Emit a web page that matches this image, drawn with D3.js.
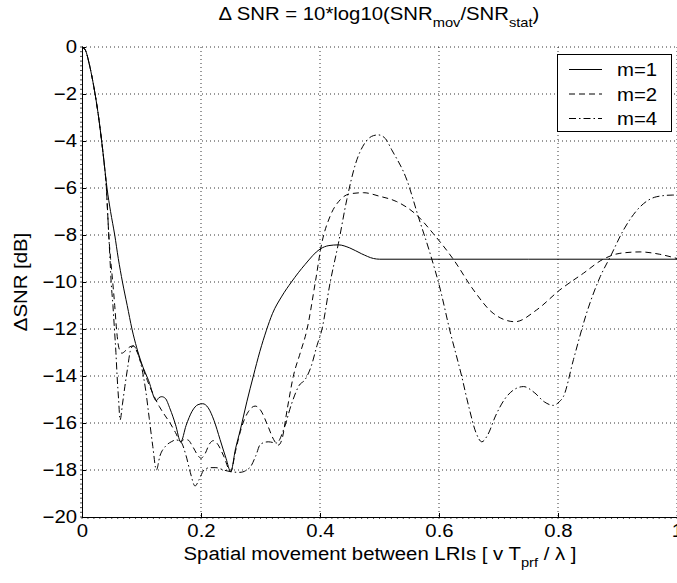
<!DOCTYPE html>
<html>
<head>
<meta charset="utf-8">
<script src="https://cdn.jsdelivr.net/npm/d3@7"></script>
<style>
  body { margin: 0; background: #fff; }
  svg { display: block; font-family: "Liberation Sans", Arial, sans-serif; }
</style>
</head>
<body>
<svg id="chart" width="677" height="583"></svg>
<script>
// axis ticks
var xTicks = [0, 0.2, 0.4, 0.6, 0.8, 1];
var yTicks = [-20, -18, -16, -14, -12, -10, -8, -6, -4, -2, 0];
var seriesNames = ["m=1", "m=2", "m=4"];

// m=1 (solid)
var m1X = [0, 0.006, 0.012, 0.017, 0.022, 0.028, 0.033, 0.0375, 0.042, 0.048, 0.055, 0.061, 0.068, 0.076, 0.084, 0.092, 0.1, 0.112, 0.125,
           0.129, 0.134, 0.14, 0.148, 0.157, 0.166, 0.175, 0.185, 0.195, 0.203, 0.212, 0.222, 0.232, 0.242, 0.25,
           0.258, 0.266, 0.277, 0.288, 0.299, 0.31, 0.32, 0.336, 0.352, 0.375, 0.4, 0.415, 0.431, 0.45, 0.47, 0.49, 0.5, 0.75, 1.0];
var m1Y = [0, -0.15, -0.7, -1.3, -2, -3, -4, -5, -6, -7, -8, -9, -10, -11, -12, -12.8, -13.45, -14.2, -15.05,
           -14.93, -14.88, -14.95, -15.4, -16.05, -16.8, -16.1, -15.5, -15.22, -15.18, -15.35, -15.9, -16.7, -17.5, -18.07,
           -17.1, -16.3, -15.1, -14, -12.95, -12.05, -11.35, -10.6, -10, -9.25, -8.6, -8.45, -8.42, -8.55, -8.8, -9.0, -9.03, -9.03, -9.03];

// m=2 (dashed)
var m2X = [0, 0.006, 0.012, 0.017, 0.022, 0.028, 0.033, 0.0375, 0.041, 0.043, 0.045, 0.048, 0.0516, 0.055, 0.058, 0.062, 0.067, 0.072, 0.078, 0.086,
           0.093, 0.1, 0.11, 0.12, 0.13, 0.14, 0.148, 0.157, 0.166, 0.172, 0.178, 0.186, 0.194, 0.2, 0.207, 0.214, 0.221, 0.228, 0.238, 0.25,
           0.258, 0.268, 0.28, 0.291, 0.3, 0.312, 0.322, 0.33, 0.336, 0.345, 0.355, 0.367, 0.378, 0.392, 0.403, 0.417, 0.434, 0.45, 0.473,
           0.5, 0.529, 0.5625, 0.59, 0.624, 0.658, 0.691, 0.728, 0.764, 0.803, 0.8426, 0.876, 0.904, 0.938, 0.971, 1.0];
var m2Y = [0, -0.15, -0.7, -1.3, -2, -3, -4, -5, -6, -7, -8, -9, -10, -11, -12, -12.8, -13.03, -12.95, -12.8, -12.72,
           -13.0, -13.5, -14.2, -14.8, -15.3, -15.7, -16.0, -16.4, -16.8, -16.7, -16.72, -17.0, -17.35, -17.5, -17.3, -16.9, -16.75, -16.9, -17.4, -18.07,
           -17.2, -16.2, -15.5, -15.28, -15.45, -16.1, -16.7, -16.94, -16.7, -15.4, -14.03, -13.0, -12.04, -10.03, -8.35, -7.2, -6.5, -6.25, -6.2,
           -6.35, -6.58, -7.15, -7.93, -9.03, -10.34, -11.33, -11.69, -11.19, -10.34, -9.63, -9.03, -8.78, -8.72, -8.82, -9.0];

// m=4 (dash-dot)
var m4X = [0, 0.006, 0.012, 0.017, 0.022, 0.028, 0.033, 0.0375, 0.041, 0.043, 0.045, 0.047, 0.049, 0.052, 0.0545, 0.057, 0.059, 0.0615, 0.064,
           0.068, 0.072, 0.077, 0.081, 0.086, 0.092, 0.1, 0.107, 0.113, 0.119, 0.125, 0.131, 0.14, 0.15, 0.158, 0.166, 0.175, 0.182, 0.19,
           0.197, 0.205, 0.215, 0.225, 0.238, 0.25, 0.265, 0.282, 0.292, 0.3, 0.313, 0.327, 0.34, 0.352, 0.365, 0.375, 0.385, 0.395, 0.403,
           0.417, 0.431, 0.445, 0.46, 0.475, 0.49, 0.498, 0.51, 0.52, 0.546, 0.565, 0.585, 0.602, 0.618, 0.638, 0.65, 0.662, 0.672, 0.682,
           0.695, 0.71, 0.725, 0.742, 0.76, 0.777, 0.792, 0.802, 0.809, 0.826, 0.848, 0.871, 0.888, 0.91, 0.938, 0.966, 0.993, 1.0];
var m4Y = [0, -0.15, -0.7, -1.3, -2, -3, -4, -5, -6, -7, -8, -9, -10, -11, -12, -13, -14, -15, -15.87,
           -15.2, -14.45, -13.6, -12.95, -12.72, -12.9, -13.6, -14.6, -15.8, -17.0, -18.0, -17.4, -17.0, -16.8, -16.72, -16.8, -17.4, -18.1, -18.68,
           -18.4, -18.0, -17.9, -17.9, -18.0, -18.07, -18.1, -17.9, -17.4, -16.9, -16.8, -16.85, -16.2, -15.2, -14.4, -14.15, -13.6, -12.7, -12.04,
           -10.03, -8.35, -6.5, -4.95, -4.1, -3.77, -3.74, -3.9, -4.35, -5.66, -7.2, -8.78, -10.3, -12.04, -14.0, -15.3, -16.4, -16.8, -16.5,
           -15.7, -15.0, -14.6, -14.45, -14.7, -15.1, -15.25, -15.1, -14.88, -13.3, -11.33, -9.77, -8.92, -7.79, -6.8, -6.37, -6.3, -6.3];

var svg = d3.select("#chart");
var plotLeft = 82, plotRight = 677, plotTop = 47, plotBottom = 517;
var fontSize = 18, stretchX = 1.13;  // reference text is a little wider than Liberation Sans

var x = d3.scaleLinear().domain([0, 1]).range([plotLeft, plotRight]);
var y = d3.scaleLinear().domain([-20, 0]).range([plotBottom, plotTop]);

// move x/y of a text into a translate, then widen it
function stretch(sel) {
  sel.each(function() {
    var t = d3.select(this);
    var tx = +t.attr("x") || 0, ty = +t.attr("y") || 0;
    t.attr("x", 0).attr("y", 0)
      .attr("transform", "translate(" + tx + "," + ty + ") scale(" + stretchX + ",1)");
  });
}

// grid
var grid = svg.append("g").attr("stroke", "#000").attr("stroke-width", 0.8)
  .attr("stroke-dasharray", "1,3");
grid.selectAll("line.gx").data(xTicks.slice(1)).enter().append("line")
  .attr("x1", d => x(d)).attr("x2", d => x(d)).attr("y1", plotTop).attr("y2", plotBottom);
grid.selectAll("line.gy").data(yTicks.slice(1)).enter().append("line")
  .attr("x1", plotLeft).attr("x2", plotRight).attr("y1", d => y(d)).attr("y2", d => y(d));

// minor ticks
var xMinor = d3.range(0, 1.0001, 0.01);
var yMinor = d3.range(-20, 0.0001, 0.2);
svg.append("g").selectAll("line").data(xMinor).enter().append("line")
  .attr("x1", d => x(d)).attr("x2", d => x(d)).attr("y1", plotBottom).attr("y2", plotBottom + 2)
  .attr("stroke", "#000").attr("stroke-width", 0.7);
svg.append("g").selectAll("line").data(yMinor).enter().append("line")
  .attr("x1", plotLeft - 2).attr("x2", plotLeft).attr("y1", d => y(d)).attr("y2", d => y(d))
  .attr("stroke", "#000").attr("stroke-width", 0.7);

// axes
var fmt = function(d) { return String(d).replace("-", "\u2212"); };
var xAxis = d3.axisBottom(x).tickValues(xTicks).tickSizeInner(-4).tickSizeOuter(0).tickPadding(7).tickFormat(fmt);
var yAxis = d3.axisLeft(y).tickValues(yTicks).tickSizeInner(-4).tickSizeOuter(0).tickPadding(5).tickFormat(fmt);

var gx = svg.append("g").attr("transform", "translate(0," + plotBottom + ")").call(xAxis);
var gy = svg.append("g").attr("transform", "translate(" + plotLeft + ",0)").call(yAxis);
[gx, gy].forEach(function(g) {
  g.select(".domain").attr("stroke", "#000");
  g.selectAll("text").attr("font-size", fontSize).attr("fill", "#000")
    .attr("font-family", "'Liberation Sans', Arial, sans-serif");
});
stretch(gx.selectAll("text"));
stretch(gy.selectAll("text"));

// curves
svg.append("clipPath").attr("id", "clip").append("rect")
  .attr("x", plotLeft).attr("y", plotTop - 5).attr("width", plotRight - plotLeft).attr("height", plotBottom - plotTop + 5);

var line = d3.line().x(d => x(d[0])).y(d => y(d[1])).curve(d3.curveMonotoneX);
var series = [
  { name: seriesNames[0], data: d3.zip(m1X, m1Y), dash: null },
  { name: seriesNames[1], data: d3.zip(m2X, m2Y), dash: "6,4" },
  { name: seriesNames[2], data: d3.zip(m4X, m4Y), dash: "7,3,1.5,3" }
];
svg.append("g").attr("clip-path", "url(#clip)").selectAll("path").data(series).enter().append("path")
  .attr("d", d => line(d.data))
  .attr("fill", "none").attr("stroke", "#000").attr("stroke-width", 1)
  .attr("stroke-dasharray", d => d.dash);

// legend
var lg = svg.append("g");
lg.append("rect").attr("x", 557.5).attr("y", 54.5).attr("width", 114).attr("height", 77)
  .attr("fill", "#fff").attr("stroke", "#000").attr("stroke-width", 1);
var items = lg.selectAll("g.item").data(series).enter().append("g")
  .attr("transform", (d, i) => "translate(0," + (69.5 + i * 24.5) + ")");
items.append("line").attr("x1", 569).attr("x2", 602).attr("y1", 0).attr("y2", 0)
  .attr("stroke", "#000").attr("stroke-width", 1).attr("stroke-dasharray", d => d.dash);
items.append("text").attr("x", 617).attr("y", 6.5).attr("font-size", fontSize).text(d => d.name);
stretch(items.selectAll("text"));

// title
var title = svg.append("text").attr("x", 379).attr("y", 20).attr("text-anchor", "middle").attr("font-size", fontSize);
title.append("tspan").text("\u0394 SNR = 10*log10(SNR");
title.append("tspan").attr("font-size", 13).attr("dy", 7).text("mov");
title.append("tspan").attr("dy", -7).text("/SNR");
title.append("tspan").attr("font-size", 13).attr("dy", 7).text("stat");
title.append("tspan").attr("dy", -7).text(")");
stretch(title);

// x label
var xl = svg.append("text").attr("x", 380).attr("y", 560).attr("text-anchor", "middle").attr("font-size", fontSize);
xl.append("tspan").text("Spatial movement between LRIs [ v T");
xl.append("tspan").attr("font-size", 13).attr("dy", 7).text("prf");
xl.append("tspan").attr("dy", -7).text(" / \u03bb ]");
stretch(xl);

// y label
svg.append("text").attr("transform", "translate(27," + (plotTop + plotBottom) / 2 + ") rotate(-90) scale(" + stretchX + ",1)")
  .attr("text-anchor", "middle").attr("font-size", fontSize).text("\u0394SNR [dB]");
</script>
</body>
</html>
